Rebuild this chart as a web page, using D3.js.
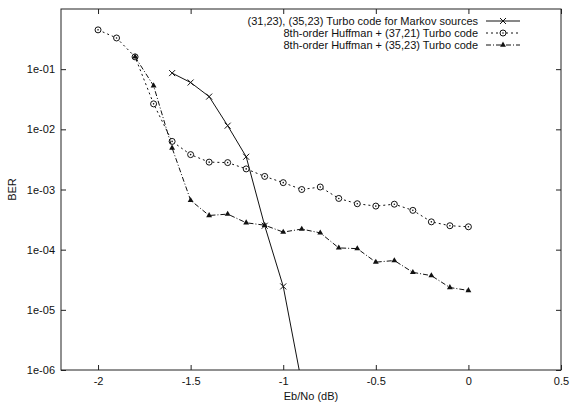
<!DOCTYPE html>
<html>
<head>
<meta charset="utf-8">
<script src="https://cdn.jsdelivr.net/npm/d3@7"></script>
<style>
  body { margin: 0; background: #fff; }
  text { font-family: "Liberation Sans", Arial, sans-serif; font-size: 11px; fill: #111; }
</style>
</head>
<body>
<div id="chart"></div>
<script>
// Eb/No (dB) values for each curve
var xMarkov = [-1.6, -1.5, -1.4, -1.3, -1.2, -1.1, -1.0, -0.9];
var berMarkov = [8.6e-2, 6.0e-2, 3.5e-2, 1.15e-2, 3.5e-3, 2.5e-4, 2.45e-5, 6e-7];

var xHuff37 = [-2.0, -1.9, -1.8, -1.7, -1.6, -1.5, -1.4, -1.3, -1.2, -1.1, -1.0,
               -0.9, -0.8, -0.7, -0.6, -0.5, -0.4, -0.3, -0.2, -0.1, 0.0];
var berHuff37 = [0.45, 0.33, 0.16, 2.65e-2, 6.3e-3, 3.8e-3, 2.85e-3, 2.8e-3, 2.2e-3, 1.65e-3, 1.3e-3,
                 1.0e-3, 1.1e-3, 7.1e-4, 5.8e-4, 5.3e-4, 5.7e-4, 4.5e-4, 2.9e-4, 2.5e-4, 2.4e-4];

var xHuff35 = [-1.8, -1.7, -1.6, -1.5, -1.4, -1.3, -1.2, -1.1, -1.0,
               -0.9, -0.8, -0.7, -0.6, -0.5, -0.4, -0.3, -0.2, -0.1, 0.0];
var berHuff35 = [0.16, 5.3e-2, 4.9e-3, 6.6e-4, 3.7e-4, 3.9e-4, 2.8e-4, 2.55e-4, 1.96e-4,
                 2.2e-4, 1.9e-4, 1.07e-4, 1.04e-4, 6.2e-5, 6.6e-5, 4.2e-5, 3.7e-5, 2.35e-5, 2.1e-5];

var seriesNames = [
    "(31,23), (35,23) Turbo code for Markov sources",
    "8th-order Huffman + (37,21) Turbo code",
    "8th-order Huffman + (35,23) Turbo code"
];

var xTicks = [-2, -1.5, -1, -0.5, 0, 0.5];
var xTickLabels = ["-2", "-1.5", "-1", "-0.5", "0", "0.5"];
var yTicks = [1e-6, 1e-5, 1e-4, 1e-3, 1e-2, 1e-1];
var yTickLabels = ["1e-06", "1e-05", "1e-04", "1e-03", "1e-02", "1e-01"];

var width = 570, height = 404;
var margin = { top: 9, right: 9, bottom: 34, left: 61 };
var w = width - margin.left - margin.right;
var h = height - margin.top - margin.bottom;

var x = d3.scaleLinear().domain([-2.2, 0.5]).range([0, w]);
var y = d3.scaleLog().domain([1e-6, 1]).range([h, 0]);

var svg = d3.select("#chart").append("svg")
    .attr("width", width)
    .attr("height", height);

var g = svg.append("g")
    .attr("transform", "translate(" + margin.left + "," + margin.top + ")");

g.append("clipPath").attr("id", "plot-clip")
    .append("rect").attr("width", w).attr("height", h);

// axes, gnuplot style: ticks point inward and are mirrored
function fmt(list, ticks) {
    return function (d) { return list[ticks.indexOf(d)]; };
}

g.append("g")
    .attr("transform", "translate(0," + h + ")")
    .call(d3.axisBottom(x).tickValues(xTicks).tickFormat(fmt(xTickLabels, xTicks))
        .tickSizeInner(-5).tickSizeOuter(0).tickPadding(7))
    .call(function (s) { s.select(".domain").remove(); });

g.append("g")
    .call(d3.axisTop(x).tickValues(xTicks).tickFormat("")
        .tickSizeInner(-5).tickSizeOuter(0))
    .call(function (s) { s.select(".domain").remove(); });

g.append("g")
    .call(d3.axisLeft(y).tickValues(yTicks).tickFormat(fmt(yTickLabels, yTicks))
        .tickSizeInner(-5).tickSizeOuter(0).tickPadding(6))
    .call(function (s) { s.select(".domain").remove(); });

g.append("g")
    .attr("transform", "translate(" + w + ",0)")
    .call(d3.axisRight(y).tickValues(yTicks).tickFormat("")
        .tickSizeInner(-5).tickSizeOuter(0))
    .call(function (s) { s.select(".domain").remove(); });

g.selectAll(".tick line").attr("stroke", "#222");
g.selectAll(".tick text").style("font-size", "11px").style("font-family", "Liberation Sans, Arial, sans-serif");

g.append("rect")
    .attr("width", w).attr("height", h)
    .attr("fill", "none").attr("stroke", "#222").attr("stroke-width", 1);

// axis titles
svg.append("text")
    .attr("x", margin.left + w / 2).attr("y", 400)
    .attr("text-anchor", "middle")
    .text("Eb/No (dB)");

svg.append("text")
    .attr("transform", "translate(16," + (margin.top + h / 2) + ") rotate(-90)")
    .attr("text-anchor", "middle")
    .text("BER");

// curves
var series = [
    { xs: xMarkov, ys: berMarkov, dash: null, mark: "cross" },
    { xs: xHuff37, ys: berHuff37, dash: "2,3", mark: "circle" },
    { xs: xHuff35, ys: berHuff35, dash: "5,2,1,2", mark: "triangle" }
];

var line = d3.line()
    .x(function (d) { return x(d[0]); })
    .y(function (d) { return y(d[1]); });

var plot = g.append("g").attr("clip-path", "url(#plot-clip)");

function drawMark(sel, kind) {
    if (kind === "cross") {
        sel.append("path").attr("d", "M-3,-3L3,3M-3,3L3,-3")
            .attr("stroke", "#111").attr("stroke-width", 1);
    } else if (kind === "circle") {
        sel.append("circle").attr("r", 3).attr("fill", "#fff")
            .attr("stroke", "#111").attr("stroke-width", 1);
        sel.append("circle").attr("r", 0.8).attr("fill", "#111");
    } else {
        sel.append("path").attr("d", d3.symbol().type(d3.symbolTriangle).size(15)())
            .attr("fill", "#111");
    }
}

series.forEach(function (s) {
    var pts = s.xs.map(function (v, i) { return [v, s.ys[i]]; });
    plot.append("path")
        .datum(pts)
        .attr("d", line)
        .attr("fill", "none")
        .attr("stroke", "#111")
        .attr("stroke-width", 1)
        .attr("stroke-dasharray", s.dash);
    plot.selectAll(null)
        .data(pts.filter(function (d) { return d[1] >= 1e-6; }))
        .enter().append("g")
        .attr("transform", function (d) { return "translate(" + x(d[0]) + "," + y(d[1]) + ")"; })
        .each(function () { drawMark(d3.select(this), s.mark); });
});

// legend, right aligned like gnuplot's key
var legend = svg.append("g");
seriesNames.forEach(function (name, i) {
    var ly = 21 + i * 12;
    legend.append("text")
        .attr("x", 478).attr("y", ly)
        .attr("dy", "0.35em")
        .attr("text-anchor", "end")
        .text(name);
    legend.append("line")
        .attr("x1", 486).attr("x2", 520)
        .attr("y1", ly).attr("y2", ly)
        .attr("stroke", "#111").attr("stroke-width", 1)
        .attr("stroke-dasharray", series[i].dash);
    var m = legend.append("g").attr("transform", "translate(503," + ly + ")");
    drawMark(m, series[i].mark);
});
</script>
</body>
</html>
